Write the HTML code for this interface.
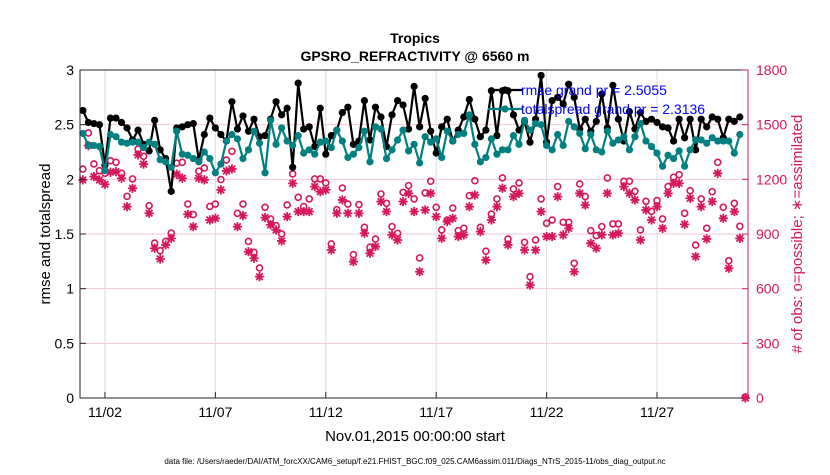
<!DOCTYPE html>
<html><head><meta charset="utf-8">
<style>
body{margin:0;background:#fff;width:830px;height:470px;overflow:hidden;font-family:"Liberation Sans",sans-serif;}
svg text{font-family:"Liberation Sans",sans-serif;}
</style></head>
<body>
<svg id="chart" width="830" height="470" xmlns="http://www.w3.org/2000/svg">
<rect width="830" height="470" fill="#fff"/>
<g id="grid"></g>
<g id="series"></g>
<rect x="80" y="70" width="668" height="328" fill="none" stroke="#262626" stroke-width="1"/>
<line x1="748" y1="70" x2="748" y2="398" stroke="#d6185a" stroke-width="1"/>
<g id="axes"></g>
<text x="415" y="43" text-anchor="middle" font-size="14" font-weight="bold">Tropics</text>
<text x="415" y="61" text-anchor="middle" font-size="14" font-weight="bold">GPSRO_REFRACTIVITY @ 6560 m</text>
<text transform="translate(50,234) rotate(-90)" text-anchor="middle" font-size="15">rmse and totalspread</text>
<text transform="translate(802,234) rotate(-90)" text-anchor="middle" font-size="15" fill="#d6185a"># of obs: o=possible; ∗=assimilated</text>
<text x="415" y="441" text-anchor="middle" font-size="15">Nov.01,2015 00:00:00 start</text>
<text x="415" y="464" text-anchor="middle" font-size="8">data file: /Users/raeder/DAI/ATM_forcXX/CAM6_setup/f.e21.FHIST_BGC.f09_025.CAM6assim.011/Diags_NTrS_2015-11/obs_diag_output.nc</text>
<g id="legend"></g>
</svg>
<script>
const xTickLabels = ["11/02","11/07","11/12","11/17","11/22","11/27"];
const xTickDays = [1,6,11,16,21,26];
const yTicks = [0,0.5,1,1.5,2,2.5,3];
const yTickLabels = ["0","0.5","1","1.5","2","2.5","3"];
const y2Ticks = [0,300,600,900,1200,1500,1800];
const rmse = [2.63,2.52,2.51,2.50,2.13,2.56,2.56,2.52,2.47,2.36,2.45,2.32,2.26,2.54,2.27,2.19,1.89,2.47,2.48,2.50,2.51,2.18,2.41,2.56,2.47,2.41,2.35,2.71,2.46,2.58,2.44,2.55,2.39,2.40,2.55,2.71,2.59,2.65,2.11,2.88,2.46,
2.48,2.30,2.65,2.23,2.40,2.45,2.61,2.66,2.32,2.35,2.72,2.36,2.66,2.57,2.30,2.59,2.72,2.68,2.46,2.85,2.48,2.74,2.44,2.24,2.48,2.55,2.35,2.45,2.57,2.73,2.55,2.39,2.45,2.81,2.40,2.81,2.81,2.59,2.45,
2.53,2.34,2.55,2.95,2.34,2.72,2.75,2.69,2.87,2.75,2.46,2.55,2.44,2.53,2.78,2.47,2.86,2.55,2.35,2.62,2.46,2.61,2.53,2.55,2.52,2.48,2.47,2.35,2.55,2.38,2.55,2.27,2.55,2.48,2.57,2.55,2.38,2.55,2.53,2.57];
const spread = [2.42,2.31,2.31,2.30,2.08,2.41,2.39,2.34,2.33,2.34,2.34,2.29,2.34,2.32,2.18,2.16,2.11,2.44,2.23,2.22,2.19,2.16,2.25,2.19,2.06,2.14,2.35,2.41,2.37,2.19,2.27,2.44,2.33,2.06,2.54,2.32,2.47,2.35,2.31,2.40,2.24,
2.27,2.23,2.34,2.35,2.29,2.45,2.35,2.20,2.23,2.29,2.44,2.16,2.48,2.46,2.19,2.27,2.36,2.45,2.26,2.32,2.15,2.39,2.34,2.37,2.20,2.44,2.35,2.41,2.42,2.59,2.32,2.16,2.20,2.37,2.23,2.27,2.27,2.40,2.32,
2.54,2.45,2.51,2.50,2.31,2.27,2.41,2.31,2.53,2.48,2.42,2.28,2.41,2.27,2.25,2.44,2.33,2.36,2.39,2.27,2.39,2.51,2.35,2.30,2.24,2.12,2.22,2.19,2.26,2.12,2.27,2.36,2.36,2.33,2.38,2.35,2.35,2.35,2.24,2.41];
const assimilated = [1197,1385,1215,1197,1173,1239,1242,1206,1050,1151,1334,1283,1014,822,763,840,876,1228,1206,1008,940,1206,1197,977,986,1142,1246,1257,940,1001,803,767,666,990,950,922,862,995,1178,1023,
1023,1023,1160,1132,1142,812,1014,1087,1014,748,1014,904,794,831,1078,1023,895,867,1078,1123,1023,693,1032,1123,995,876,968,986,886,895,1050,1114,913,757,977,1050,1151,840,1105,1123,812,620,
812,1023,886,886,1105,895,931,693,1123,1059,849,822,895,1123,895,904,1160,1123,1087,867,1032,977,1050,931,1123,1178,1178,953,1096,776,1050,873,1078,1233,986,712,1023,876,0];
const possible = [1251,1449,1279,1242,1228,1297,1288,1228,1101,1197,1361,1321,1050,845,803,854,900,1283,1288,1059,1001,1239,1257,1046,1059,1193,1301,1348,1008,1059,854,794,708,1041,977,940,895,1054,1224,1096,
1045,1087,1197,1197,1175,840,1028,1147,1059,781,1056,931,822,867,1114,1063,935,898,1123,1160,1087,763,1120,1184,1041,917,971,1037,913,926,1105,1187,931,800,1004,1087,1202,867,1142,1175,849,660,
862,1087,953,971,1155,959,959,734,1169,1100,913,886,935,1202,950,950,1184,1184,1129,917,1074,1019,1078,977,1155,1206,1220,1008,1132,834,1087,926,1127,1288,1041,748,1063,937,0];

const NS="http://www.w3.org/2000/svg";
const X0=80,X1=748,Y0=70,Y1=398;
const d0=-0.13,d1=30.12;
const stepDays=0.25;
function xScale(d){return X0+(d-d0)/(d1-d0)*(X1-X0);}
function yScale(v){return Y1-v/3*(Y1-Y0);}
function y2Scale(v){return Y1-v/1800*(Y1-Y0);}
function mk(tag,attrs,parent){const e=document.createElementNS(NS,tag);for(const k in attrs)e.setAttribute(k,attrs[k]);parent.appendChild(e);return e;}
const grid=document.getElementById('grid'),axes=document.getElementById('axes'),ser=document.getElementById('series'),leg=document.getElementById('legend');
const RED="#d6185a",TEAL="#008080";

y2Ticks.forEach((t,i)=>{const y=y2Scale(t);
  const g=mk('line',{x1:X0,x2:X1,y1:y,y2:y,stroke:"#f4c8d6","stroke-width":1},grid);
  
  
  const tk=mk('line',{x1:X1-6,x2:X1,y1:y,y2:y,stroke:RED},axes);
  
  
  const tx=mk('text',{x:X1+8,y:y+5,"font-size":14,fill:RED},axes);tx.textContent=t;
  
  
});
yTicks.forEach((t,i)=>{const y=yScale(t);
  const tk=mk('line',{x1:X0,x2:X0+6,y1:y,y2:y,stroke:"#262626"},axes);
  
  
  const tx=mk('text',{x:X0-6,y:y+5,"font-size":14,"text-anchor":"end"},axes);tx.textContent=yTickLabels[i];
  
  
});
xTickDays.forEach((d,i)=>{const x=xScale(d);
  const g=mk('line',{x1:x,x2:x,y1:Y0,y2:Y1,stroke:"#dcdcdc","stroke-width":1},grid);
  
  
  const tk=mk('line',{x1:x,x2:x,y1:Y1-6,y2:Y1,stroke:"#262626"},axes);
  
  
  const tx=mk('text',{x:x,y:Y1+19,"font-size":14,"text-anchor":"middle"},axes);tx.textContent=xTickLabels[i];
  
  
});

function star(x,y,parent){
  const r=4.6,q=3.3;
  return mk('path',{d:`M${x-r},${y}H${x+r}M${x},${y-r}V${y+r}M${x-q},${y-q}L${x+q},${y+q}M${x-q},${y+q}L${x+q},${y-q}`,stroke:RED,"stroke-width":1.8,fill:"none"},parent);
}
const obsG=mk('g',{},ser);


possible.forEach((v,i)=>{
  const c=mk('circle',{cx:xScale(i*stepDays),cy:y2Scale(v)-1,r:3,fill:"none",stroke:RED,"stroke-width":1.6},obsG);
  
  
});
assimilated.forEach((v,i)=>{
  const s=star(xScale(i*stepDays),y2Scale(v),obsG);
  
  
});
function lineSeries(arr,color,name){
  const g=mk('g',{},ser);
  
  
  const pts=arr.map((v,i)=>xScale(i*stepDays).toFixed(1)+","+yScale(v).toFixed(1)).join(" ");
  const pl=mk('polyline',{points:pts,fill:"none",stroke:color,"stroke-width":2.2},g);
  
  
  arr.forEach((v,i)=>{
    const c=mk('circle',{cx:xScale(i*stepDays),cy:yScale(v),r:3.6,fill:color},g);
    
    
  });
}
lineSeries(rmse,"#000","rmse");
lineSeries(spread,TEAL,"totalspread");

[["rmse grand pr = 2.5055","#000",90],["totalspread grand pr = 2.3136",TEAL,109]].forEach(([t,c,y])=>{
  const l=mk('line',{x1:488,x2:522,y1:y,y2:y,stroke:c,"stroke-width":2.2},leg);
  
  
  const m=mk('circle',{cx:505,cy:y,r:3.6,fill:c},leg);
  
  
  const tx=mk('text',{x:521,y:y+5,"font-size":14,fill:"#0000ff"},leg);tx.textContent=t;
  
  
});
</script>
</body></html>
